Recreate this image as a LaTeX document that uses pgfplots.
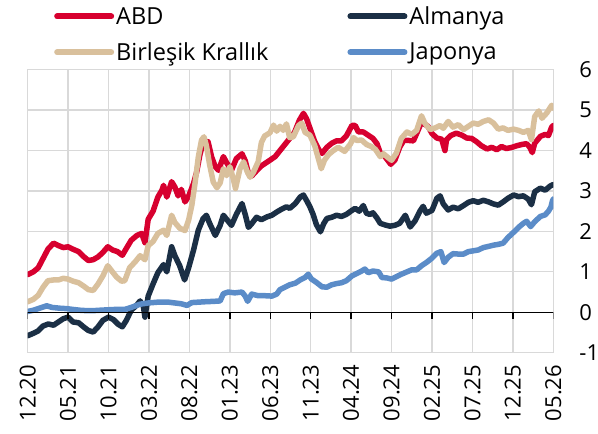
\documentclass[border=0pt]{standalone}
\usepackage{fontspec}
\setmainfont{Open Sans}
\usepackage{pgfplots}
\pgfplotsset{compat=1.18}
\definecolor{cABD}{HTML}{D7002F}
\definecolor{cDE}{HTML}{1B2F45}
\definecolor{cUK}{HTML}{D9C09C}
\definecolor{cJP}{HTML}{5B8CC8}
\definecolor{cgrid}{HTML}{D9D9D9}
\newcommand{\lblfont}{\fontsize{22pt}{26pt}\selectfont}
\newcommand{\legfont}{\fontsize{23.5pt}{27pt}\selectfont}
\begin{document}
\begin{tikzpicture}[x=1pt,y=1pt]
\useasboundingbox (0,0) rectangle (598,434);
\begin{axis}[
 at={(27.7pt,81.3pt)}, anchor=south west, scale only axis,
 width=525.6pt, height=283pt,
 xmin=0, xmax=65, ymin=-1, ymax=6,
 xtick={0,5,...,65},
 xticklabels={12.20,05.21,10.21,03.22,08.22,01.23,06.23,11.23,04.24,09.24,02.25,07.25,12.25,05.26},
 ytick={-1,0,...,6},
 yticklabel pos=right,
 grid=major,
 major grid style={cgrid, line width=1.3pt},
 axis line style={cgrid, line width=1.3pt},
 tick style={draw=none},
 major tick length=0pt,
 every tick label/.append style={font=\lblfont, inner sep=0pt},
 xticklabel style={rotate=90, anchor=east},
 xticklabel shift=12pt,
 yticklabel style={anchor=west},
 yticklabel shift=26pt,
 /pgf/number format/assume math mode=true,
 legend columns=2,
 legend cell align=left,
 legend style={draw=none, fill=none, font=\legfont, inner sep=0pt,
   at={(axis description cs:0.05,1.23)}, anchor=north west,
   /tikz/row sep=12.5pt,
   /tikz/every even column/.append style={column sep=77pt}},
 legend image code/.code={\draw[#1, line width=6pt, line cap=round] (0pt,0pt) -- (54pt,0pt);},
 every axis plot/.append style={line width=5.5pt, line join=round, line cap=round, mark=none},
]
\addplot[cABD] coordinates {
(0,0.93) (0.7,1.0) (1.3,1.1) (1.9,1.33) (2.5,1.56) (3.2,1.71) (3.8,1.65) (4.4,1.6) (5.0,1.62) (5.6,1.56)
(6.3,1.5) (6.9,1.38) (7.5,1.28) (8.1,1.3) (8.7,1.37) (9.3,1.48) (9.9,1.62) (10.5,1.54) (11.1,1.5) (11.7,1.41)
(12.2,1.58) (12.8,1.78) (13.5,1.9) (14.1,1.95) (14.5,1.72) (14.9,2.3) (15.5,2.5) (16.1,2.85) (16.6,3.02) (16.8,3.14)
(17.2,2.85) (17.8,3.23) (18.2,3.1) (18.6,2.88) (19.0,3.04) (19.45,2.73) (19.9,2.87) (20.5,3.18) (20.9,3.47) (21.3,3.9)
(21.7,4.2) (22.3,4.22) (22.75,3.84) (23.2,3.6) (23.6,3.51) (24.2,3.85) (24.6,3.7) (25.2,3.51) (25.8,3.8) (26.5,3.92)
(26.9,3.75) (27.3,3.43) (27.7,3.37) (28.3,3.5) (28.9,3.62) (29.8,3.74) (30.6,3.85) (31.2,4.0) (31.8,4.15) (32.4,4.3)
(33.0,4.45) (33.6,4.75) (34.1,4.92) (34.5,4.78) (35.0,4.5) (35.5,4.22) (36.0,4.02) (36.4,3.93) (37.0,4.08) (37.6,4.18)
(38.2,4.24) (38.8,4.24) (39.4,4.36) (40.1,4.62) (40.5,4.62) (40.9,4.46) (41.5,4.46) (42.1,4.38) (42.7,4.3) (43.2,4.17)
(43.6,3.94) (44.1,3.87) (44.6,3.74) (44.9,3.66) (45.4,3.76) (46.0,4.08) (46.5,4.25) (47.1,4.25) (47.7,4.24) (48.1,4.42)
(48.7,4.7) (49.5,4.6) (50.0,4.42) (50.6,4.31) (51.2,4.28) (51.6,4.0) (51.8,4.27) (52.3,4.37) (53.0,4.43) (53.7,4.38)
(54.3,4.31) (54.9,4.3) (55.5,4.22) (56.1,4.12) (56.8,4.04) (57.4,4.08) (58.0,4.02) (58.6,4.1) (59.2,4.05) (59.9,4.08)
(60.5,4.12) (61.1,4.15) (61.7,4.17) (62.1,4.08) (62.4,3.95) (62.7,4.18) (63.4,4.35) (64.0,4.4) (64.4,4.37) (64.8,4.58) (65.0,4.62)
};
\addlegendentry{ABD}
\addplot[cDE] coordinates {
(0,-0.58) (0.7,-0.52) (1.3,-0.46) (1.9,-0.34) (2.55,-0.29) (3.2,-0.32) (3.8,-0.24) (4.4,-0.16) (5.0,-0.12) (5.6,-0.24)
(6.3,-0.26) (6.9,-0.36) (7.5,-0.45) (8.1,-0.49) (8.7,-0.36) (9.3,-0.2) (10.0,-0.12) (10.6,-0.18) (11.2,-0.3) (11.7,-0.36)
(12.2,-0.2) (12.8,0.05) (13.5,0.18) (13.9,0.28) (14.3,0.15) (14.5,-0.12) (14.9,0.4) (15.5,0.7) (16.1,0.98) (16.8,1.18)
(17.2,1.0) (17.8,1.62) (18.2,1.4) (18.8,1.15) (19.4,0.8) (19.9,1.1) (20.5,1.53) (21.1,2.03) (21.7,2.32) (22.1,2.4)
(22.5,2.2) (23.2,1.9) (23.8,2.15) (24.2,2.4) (24.6,2.3) (25.2,2.15) (25.8,2.42) (26.5,2.69) (26.9,2.42) (27.3,2.1)
(27.7,2.19) (28.3,2.35) (28.9,2.29) (29.6,2.36) (30.2,2.4) (30.8,2.48) (31.4,2.55) (32.0,2.61) (32.4,2.57) (33.1,2.69)
(33.7,2.85) (34.1,2.9) (34.5,2.76) (34.9,2.61) (35.3,2.42) (35.7,2.17) (36.2,1.99) (36.6,2.19) (37.0,2.32) (37.6,2.35)
(38.2,2.4) (38.8,2.37) (39.4,2.42) (40.1,2.52) (40.5,2.57) (41.0,2.5) (41.5,2.64) (41.9,2.45) (42.3,2.42) (42.7,2.46)
(43.2,2.33) (43.6,2.2) (44.2,2.16) (44.8,2.13) (45.4,2.15) (46.0,2.2) (46.7,2.4) (47.3,2.11) (47.9,2.26) (48.5,2.5)
(48.9,2.62) (49.3,2.45) (50.0,2.52) (50.6,2.82) (51.0,2.88) (51.4,2.68) (52.0,2.53) (52.6,2.6) (53.25,2.56) (53.9,2.64)
(54.5,2.72) (55.1,2.76) (55.7,2.72) (56.35,2.77) (57.0,2.73) (57.6,2.68) (58.2,2.65) (58.8,2.73) (59.4,2.82) (60.1,2.9)
(60.7,2.86) (61.3,2.88) (61.9,2.8) (62.3,2.66) (62.7,2.98) (63.4,3.07) (64.0,3.02) (64.6,3.12) (65.0,3.16)
};
\addlegendentry{Almanya}
\addplot[cUK] coordinates {
(0,0.26) (0.7,0.32) (1.3,0.42) (1.9,0.62) (2.5,0.78) (3.2,0.8) (3.8,0.8) (4.4,0.84) (5.0,0.82) (5.6,0.77)
(6.3,0.73) (6.9,0.65) (7.5,0.56) (8.1,0.54) (8.7,0.7) (9.3,0.9) (9.9,1.15) (10.4,1.02) (11.0,0.87) (11.6,0.77)
(12.0,0.78) (12.6,1.1) (13.3,1.25) (13.9,1.4) (14.5,1.3) (14.9,1.65) (15.5,1.75) (16.1,1.95) (16.8,2.03) (17.2,1.9)
(17.8,2.4) (18.2,2.22) (18.8,2.08) (19.45,2.02) (19.9,2.28) (20.3,2.65) (20.7,3.2) (21.1,3.84) (21.5,4.26) (21.8,4.34)
(22.1,4.12) (22.5,3.65) (22.95,3.22) (23.4,3.08) (23.8,3.2) (24.2,3.55) (24.6,3.38) (25.0,3.6) (25.4,3.32) (25.7,3.06)
(26.25,3.55) (26.7,3.72) (27.1,3.5) (27.5,3.34) (27.9,3.46) (28.5,3.72) (28.9,4.2) (29.3,4.36) (29.96,4.44) (30.4,4.63)
(30.8,4.48) (31.2,4.6) (31.6,4.5) (32.0,4.66) (32.4,4.32) (32.85,4.34) (33.5,4.62) (33.9,4.68) (34.3,4.45) (34.9,4.38)
(35.5,4.12) (35.95,3.8) (36.3,3.55) (36.7,3.76) (37.2,3.9) (37.8,4.0) (38.4,4.08) (39.2,3.98) (39.9,4.16) (40.3,4.32)
(40.7,4.25) (41.3,4.26) (41.9,4.15) (42.5,4.1) (43.0,4.03) (43.6,3.85) (44.0,3.92) (44.6,3.82) (45.0,3.76) (45.6,3.94)
(46.2,4.3) (46.9,4.46) (47.5,4.4) (48.1,4.5) (48.7,4.86) (49.1,4.68) (49.75,4.52) (50.4,4.56) (51.0,4.62) (51.4,4.55)
(52.0,4.72) (52.6,4.58) (53.25,4.64) (53.9,4.52) (54.5,4.6) (55.1,4.68) (55.7,4.65) (56.35,4.72) (57.0,4.76) (57.6,4.68)
(58.2,4.53) (58.8,4.56) (59.4,4.5) (60.1,4.53) (60.7,4.5) (61.3,4.45) (61.9,4.5) (62.3,4.27) (62.7,4.84) (63.2,4.98)
(63.6,4.8) (64.2,4.93) (64.8,5.12) (65.0,5.05)
};
\addlegendentry{Birleşik Krallık}
\addplot[cJP] coordinates {
(0,0.02) (0.7,0.05) (1.3,0.09) (2.35,0.16) (3.0,0.12) (4.0,0.1) (4.8,0.09) (5.6,0.07) (6.5,0.05) (7.3,0.04)
(8.1,0.04) (8.9,0.05) (9.8,0.06) (10.8,0.07) (12.0,0.07) (12.8,0.12) (13.9,0.2) (14.9,0.23) (16.1,0.25) (17.4,0.25)
(18.2,0.23) (19.0,0.21) (19.7,0.17) (20.3,0.24) (21.9,0.26) (23.0,0.27) (23.8,0.28) (24.2,0.46) (24.8,0.5) (25.6,0.48)
(26.5,0.5) (26.9,0.4) (27.2,0.27) (27.7,0.45) (28.5,0.41) (29.3,0.41) (30.2,0.4) (30.8,0.45) (31.2,0.56) (31.8,0.62)
(32.4,0.68) (33.1,0.72) (33.7,0.8) (34.3,0.86) (34.7,0.94) (35.1,0.82) (35.7,0.74) (36.4,0.63) (37.0,0.62) (37.6,0.68)
(38.2,0.71) (38.8,0.73) (39.4,0.78) (40.1,0.9) (40.7,0.96) (41.3,1.02) (41.7,1.07) (42.1,0.98) (42.7,1.02) (43.4,1.0)
(43.8,0.86) (44.4,0.85) (45.0,0.82) (45.6,0.88) (46.2,0.94) (46.9,1.0) (47.5,1.05) (48.1,1.05) (48.7,1.15) (49.3,1.23)
(50.0,1.34) (50.6,1.46) (51.1,1.5) (51.5,1.23) (52.0,1.36) (52.6,1.45) (53.25,1.44) (53.9,1.44) (54.5,1.5) (55.1,1.52)
(55.7,1.54) (56.35,1.6) (57.0,1.63) (57.6,1.66) (58.2,1.68) (58.8,1.71) (59.4,1.85) (60.1,1.98) (60.7,2.1) (61.3,2.2)
(61.7,2.25) (62.2,2.12) (62.7,2.24) (63.4,2.37) (64.0,2.41) (64.4,2.5) (64.7,2.6) (64.9,2.76) (65.0,2.8)
};
\addlegendentry{Japonya}
\addplot[black, line width=1.3pt, line cap=butt, forget plot] coordinates {(0,0) (65,0)};
\pgfplotsinvokeforeach{0,5,...,65}{\draw[black, line width=1.3pt] (axis cs:#1,0) -- ([yshift=-7pt]axis cs:#1,0);}
\end{axis}
\end{tikzpicture}
\end{document}
